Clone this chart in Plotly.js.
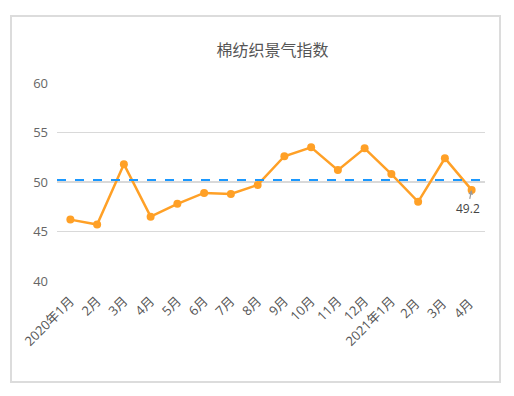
<!DOCTYPE html>
<html>
<head>
<meta charset="utf-8">
<script src="https://cdn.plot.ly/plotly-3.0.1.min.js"></script>
<style>
html,body{margin:0;padding:0;background:#fff;}
#wrap{position:relative;width:514px;height:396px;}
#chart{position:absolute;left:0;top:0;width:514px;height:396px;}
#frame{position:absolute;left:10px;top:15px;width:487px;height:364px;border:2px solid #dcdcdc;pointer-events:none;}
</style>
</head>
<body>
<div id="wrap">
<div id="chart"></div>
<div id="frame"></div>
</div>
<script>
const categories = ["2020年1月","2月","3月","4月","5月","6月","7月","8月","9月","10月","11月","12月","2021年1月","2月 ","3月 ","4月 "];
const values = [46.2,45.7,51.8,46.5,47.8,48.9,48.8,49.7,52.6,53.5,51.2,53.4,50.8,48.0,52.4,49.2];
const refLevel = 50.2;
const yTicks = [40,45,50,55,60];
const titleText = "棉纺织景气指数";
const lastLabel = "49.2";

const font = "'Open Sans', 'Noto Sans CJK SC', sans-serif";

const traces = [
  {
    x: categories,
    y: values,
    type: "scatter",
    mode: "lines+markers",
    line: {color: "#FFA026", width: 2.5},
    marker: {color: "#FFA026", size: 8},
    hoverinfo: "skip"
  }
];

const layout = {
  width: 514,
  height: 396,
  paper_bgcolor: "#fff",
  plot_bgcolor: "#fff",
  showlegend: false,
  margin: {l: 57, r: 29, t: 83, b: 115},
  title: {text: titleText, x: 0.53, xanchor: "center", y: 0.872, yanchor: "middle",
          font: {family: "'Noto Sans CJK SC', sans-serif", size: 16, color: "#555"}},
  xaxis: {
    type: "category",
    range: [-0.5, categories.length - 0.5],
    showgrid: false, zeroline: false, showline: false,
    tickangle: -45,
    ticks: "",
    ticklabelstandoff: 9,
    tickfont: {family: font, size: 13, color: "#555"}
  },
  yaxis: {
    range: [40, 60],
    tickvals: yTicks,
    showgrid: true, gridcolor: "#d9d9d9", gridwidth: 1.5,
    zeroline: false, showline: false,
    ticks: "", ticklen: 0,
    ticklabelstandoff: 8,
    tickfont: {family: font, size: 13, color: "#666"}
  },
  shapes: [
    {type: "line", xref: "paper", x0: 0, x1: 1, yref: "y", y0: refLevel, y1: refLevel,
     line: {color: "#1A98FF", width: 2, dash: "dash"}}
  ],
  annotations: [
    {x: categories[categories.length - 1], y: values[values.length - 1], xref: "x", yref: "y",
     text: lastLabel, showarrow: true, arrowhead: 2, arrowsize: 0.8, arrowwidth: 1.2, arrowcolor: "#999",
     ax: -4, ay: 19, font: {family: font, size: 12, color: "#444"}}
  ]
};

Plotly.newPlot("chart", traces, layout, {displayModeBar: false, staticPlot: true});
</script>
</body>
</html>
